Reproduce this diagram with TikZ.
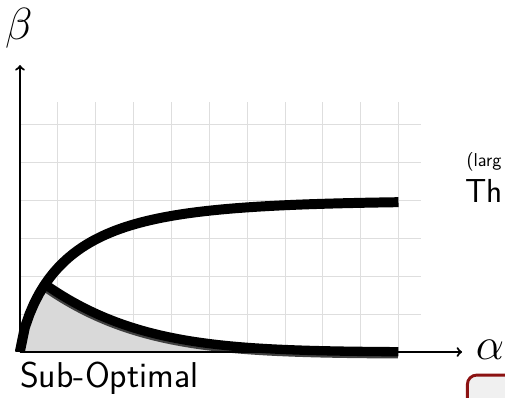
\documentclass[tikz,border=0pt]{standalone}
\usepackage{fontspec}
\usepackage{graphicx}
\usepackage{xcolor}
\usetikzlibrary{math}
\definecolor{mygray}{RGB}{217,217,217}
\definecolor{mygrid}{RGB}{222,222,222}
\definecolor{myred}{RGB}{140,18,18}

\begin{document}
\begin{tikzpicture}[scale=1, font=\sffamily]
\tikzmath{
\xmax=10;
\ymax=4;
\xc=0.66;
\yc=\ymax*(1-exp(-0.81*\xc^0.75));
}
\useasboundingbox (-0.528,-1.215) rectangle (12.814,9.300);
\clip (-0.528,-1.215) rectangle (12.814,9.300);

\coordinate (O) at (0,0);%origin and axis ends
\coordinate (Xend) at (11.68,0);
\coordinate (Yend) at (0,7.58);

%grid
\draw[mygrid, line width=0.6pt, step=1] (O) grid (10.6,6.6);

%sub-optimal region
\fill[mygray, draw=black!45, line width=0.5pt] (O) -- plot[domain=0.002:\xc, samples=20] (\x,{\ymax*(1-exp(-0.81*\x^0.75))})
  -- plot[domain=\xc:\xmax, samples=60] (\x,{\yc*exp(-0.3925*(\x-\xc)-0.0205*(\x-\xc)^2)}) -- cycle;
\draw[black!75, line width=7pt, xshift=-0.5pt, yshift=-1.6pt] plot[domain=\xc:\xmax, samples=60] (\x,{\yc*exp(-0.3925*(\x-\xc)-0.0205*(\x-\xc)^2)});

%curves
\draw[line width=7pt] plot[domain=\xc:\xmax, samples=60] (\x,{\yc*exp(-0.3925*(\x-\xc)-0.0205*(\x-\xc)^2)});
\draw[line width=7.5pt] (O) -- plot[domain=0.002:\xmax, samples=80] (\x,{\ymax*(1-exp(-0.81*\x^0.75))});

%axes
\draw[->, line width=1.6pt] (O) -- (Xend);
\draw[->, line width=1.6pt] (O) -- (Yend);
\node (alpha) at (12.42,0.05) {\Huge\scalebox{1.36}{$\alpha$}};
\node (beta) at (-0.03,8.56) {\Huge\scalebox{1.36}{$\beta$}};
\node[anchor=base west, inner sep=0pt, font=\fontsize{27}{32}\selectfont\sffamily] (subopt) at (0.0,-0.95) {Sub-Optimal};

%text on the right
\node[anchor=base west, inner sep=0pt, font=\fontsize{14}{17}\selectfont\sffamily] (larg) at (11.79,4.89) {(larg};
\node[anchor=base west, inner sep=0pt, font=\fontsize{25}{30}\selectfont\sffamily] (th) at (11.76,3.94) {Th};
\draw[myred, line width=2.2pt, fill=black!6, rounded corners=7pt] (11.82,-0.61) rectangle (14.5,-3);
\end{tikzpicture}
\end{document}
